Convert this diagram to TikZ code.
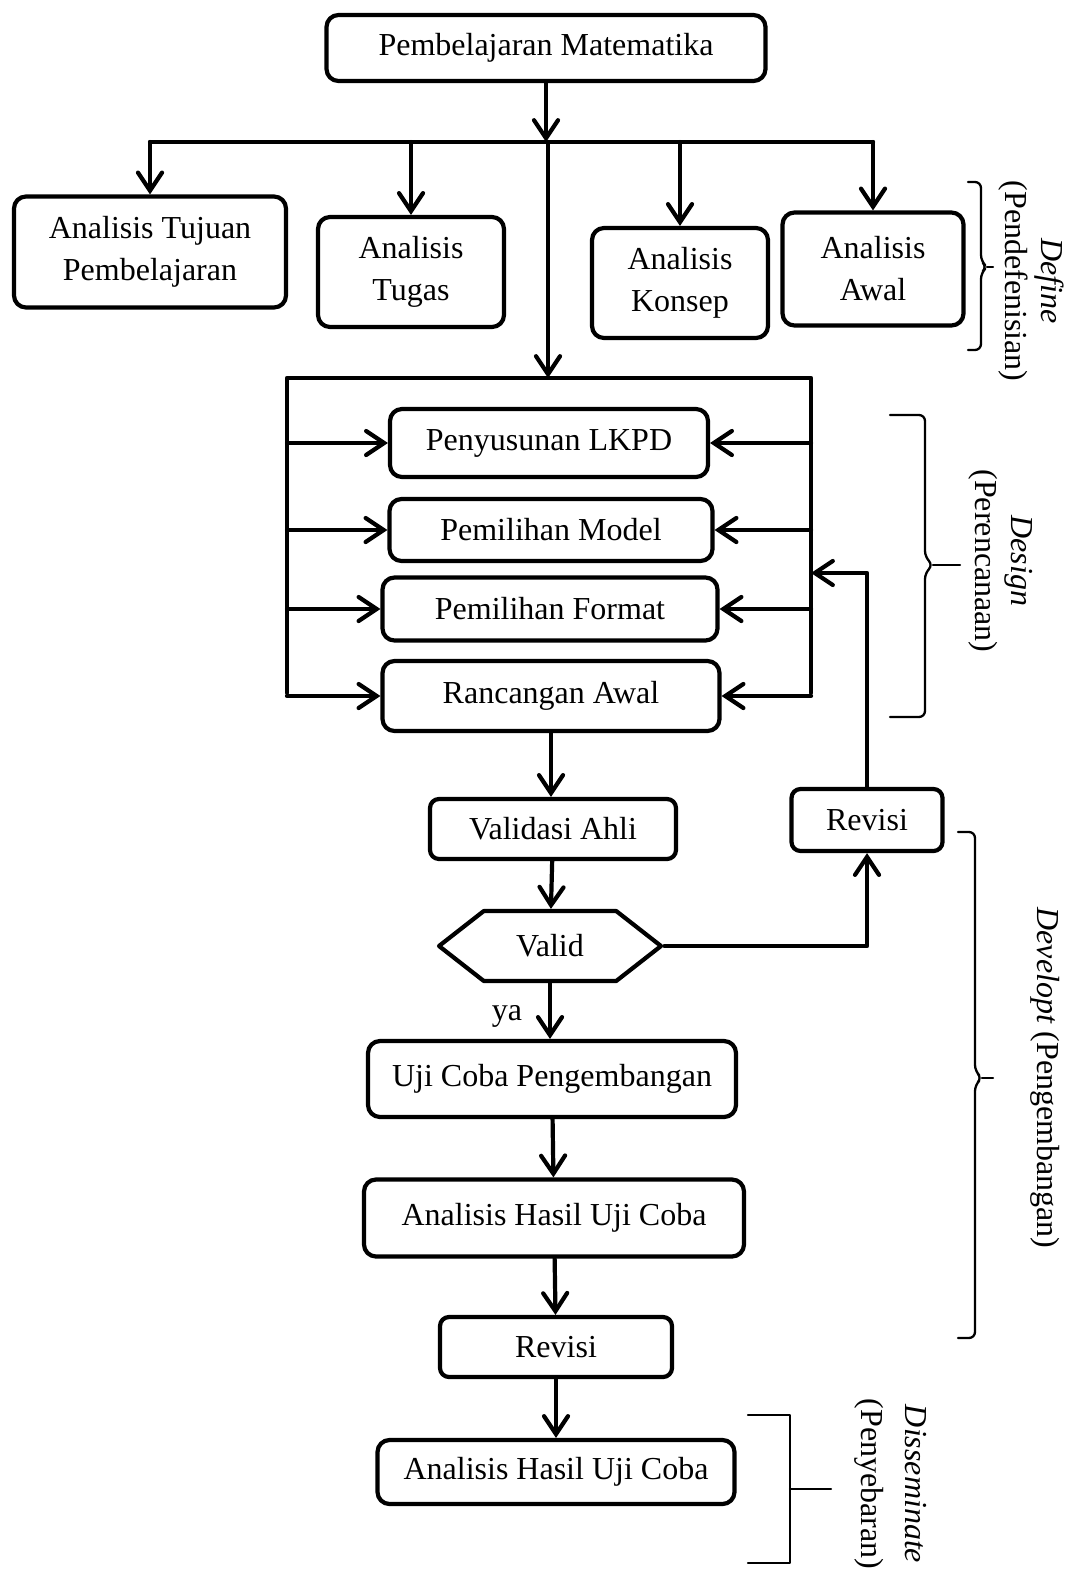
\documentclass[tikz,border=0pt]{standalone}
\usepackage{fontspec}
\setmainfont{Liberation Serif}
\usepackage{tikz}
\usetikzlibrary{arrows.meta,positioning,calc,shapes.symbols}
\tikzset{
    every picture/.style={line cap=round,line join=round},
    stagebox/.style={draw=black,fill=white,line width=4.2pt,rounded corners=12pt,
      inner sep=4pt,font=\fontsize{32}{42}\selectfont,align=center},
    checkbox/.style={draw=black,fill=white,line width=4.2pt,shape=signal,
      signal to=west and east,signal pointer angle=76,inner sep=4pt,
      font=\fontsize{32}{42}\selectfont},
    flowarrow/.style={-{Straight Barb[length=18pt,width=24pt,line cap=round]},
      draw=black,line width=4.2pt},
    flowline/.style={draw=black,line width=4.2pt},
    phasebrace/.style={draw=black,line width=2.3pt,rounded corners=6pt},
    phaselabel/.style={rotate=-90,align=center,font=\fontsize{32}{36}\selectfont}
}
\begin{document}
\begin{tikzpicture}[x=1pt,y=-1pt]
  \useasboundingbox (0,0) rectangle (1075,1571);
  % define
  \node[stagebox,minimum width=439pt,minimum height=66pt] (pm) at (546,48) {Pembelajaran Matematika};
  \node[stagebox,minimum width=272pt,minimum height=111pt] (atp) at (150,252) {Analisis Tujuan\\Pembelajaran};
  \node[stagebox,minimum width=186pt,minimum height=110pt] (atg) at (411,272) {Analisis\\Tugas};
  \node[stagebox,minimum width=176pt,minimum height=110pt] (ak) at (680,283) {Analisis\\Konsep};
  \node[stagebox,minimum width=181pt,minimum height=113pt] (aaw) at (873,269) {Analisis\\Awal};
  \coordinate (bus) at (548,142);
  \draw[flowarrow] (pm.south) -- (pm.south |- bus);
  \draw[flowline] (atp.north |- bus) -- (aaw.north |- bus);
  \foreach \n in {atp,atg,ak,aaw}
    \draw[flowarrow] (\n.north |- bus) -- (\n.north);
  % design
  \node[stagebox,minimum width=318pt,minimum height=68pt] (lkpd) at (549,443) {Penyusunan LKPD};
  \node[stagebox,minimum width=323pt,minimum height=62pt] (model) at (551,530) {Pemilihan Model};
  \node[stagebox,minimum width=335pt,minimum height=63pt] (format) at (550,609) {Pemilihan Format};
  \node[stagebox,minimum width=337pt,minimum height=70pt] (rancang) at (551,696) {Rancangan Awal};
  \coordinate (ftl) at (287,378);
  \coordinate (ftr) at (811,378);
  \draw[flowarrow] (bus) -- (bus |- ftl);
  \draw[flowline] (287,693) -- (ftl) -- (ftr) -- (811,693);
  \foreach \n in {lkpd,model,format,rancang}{
    \draw[flowarrow] (ftl |- \n) -- (\n.west);
    \draw[flowarrow] (ftr |- \n) -- (\n.east);
  }
  % develop
  \node[stagebox,rounded corners=9pt,minimum width=246pt,minimum height=60pt] (validasi) at (553,829) {Validasi Ahli};
  \node[checkbox,minimum width=222pt,minimum height=70pt] (valid) at (550,946) {Valid};
  \node[stagebox,rounded corners=9pt,minimum width=151pt,minimum height=62pt] (rev1) at (867,820) {Revisi};
  \node[stagebox,minimum width=368pt,minimum height=76pt] (uji) at (552,1079) {Uji Coba Pengembangan};
  \node[stagebox,minimum width=380pt,minimum height=77pt] (ahu1) at (554,1218) {Analisis Hasil Uji Coba};
  \node[stagebox,rounded corners=9pt,minimum width=232pt,minimum height=60pt] (rev2) at (556,1347) {Revisi};
  \node[stagebox,minimum width=357pt,minimum height=64pt] (ahu2) at (556,1472) {Analisis Hasil Uji Coba};
  \coordinate (rin) at (811,573);
  \draw[flowarrow] (rancang.south) -- (rancang.south |- validasi.north);
  \draw[flowarrow] (validasi) -- (valid);
  \draw[flowarrow] (valid.east) -| (rev1.south);
  \draw[flowarrow] (rev1.north) |- (rin);
  \draw[flowarrow] (valid.south) -- (valid.south |- uji.north);
  \node[font=\fontsize{32}{36}\selectfont] (ya) at (507,1016) {ya};
  \draw[flowarrow] (uji) -- (ahu1);
  \draw[flowarrow] (ahu1) -- (rev2);
  \draw[flowarrow] (rev2) -- (ahu2);
  % phase braces
  \draw[phasebrace] (968,182) -| (981,261) -- (987,267) -- (981,273) |- (968,350);
  \draw[phasebrace] (987,267) -- (993,267);
  \node[phaselabel] (tdef) at (1031,281) {\textit{Define}\\(Pendefenisian)};
  \draw[phasebrace] (890,415) -| (925,557) -- (933,565) -- (925,573) |- (890,717);
  \draw[phasebrace] (933,565) -- (960,565);
  \node[phaselabel] (tdes) at (1001,561) {\textit{Design}\\(Perencanaan)};
  \draw[phasebrace] (958,832) -| (975,1071) -- (982,1078) -- (975,1085) |- (958,1338);
  \draw[phasebrace] (982,1078) -- (993,1078);
  \node[phaselabel] (tdev) at (1045,1078) {\textit{Developt} (Pengembangan)};
  \draw[phasebrace,rounded corners=0pt] (748,1415) -| (790,1563) -- (748,1563);
  \draw[phasebrace] (790,1489) -- (831,1489);
  \node[phaselabel,font=\fontsize{32}{44}\selectfont] (tdis) at (891,1484) {\textit{Disseminate}\\(Penyebaran)};
\end{tikzpicture}
\end{document}
